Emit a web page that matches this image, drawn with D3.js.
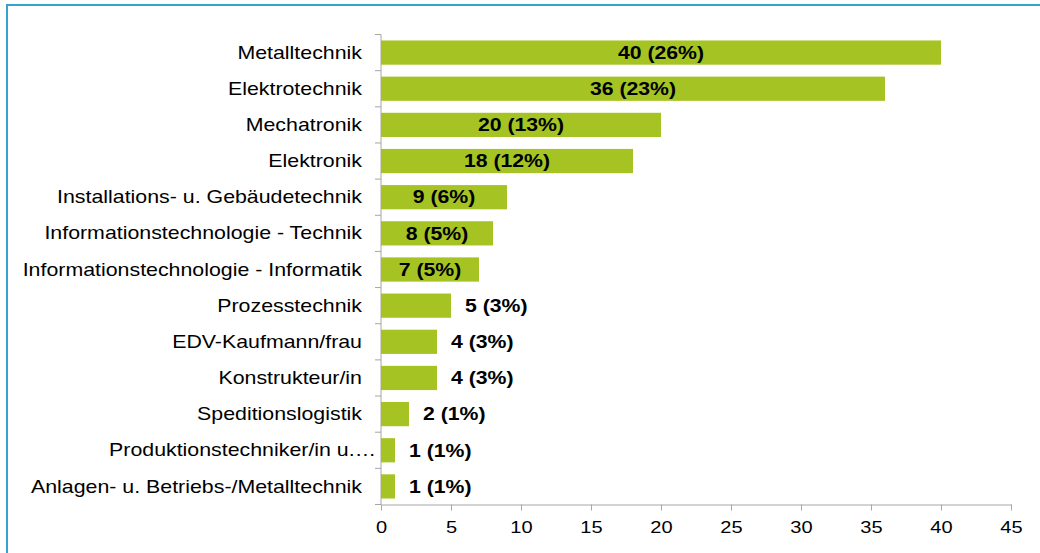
<!DOCTYPE html>
<html>
<head>
<meta charset="utf-8">
<script src="https://cdn.jsdelivr.net/npm/d3@7"></script>
<style>
body{margin:0;background:#fff}
text{font-family:"Liberation Sans",Arial,sans-serif}
</style>
</head>
<body>
<script>
var categories = ['Metalltechnik','Elektrotechnik','Mechatronik','Elektronik',
	'Installations- u. Gebäudetechnik','Informationstechnologie - Technik',
	'Informationstechnologie - Informatik','Prozesstechnik','EDV-Kaufmann/frau',
	'Konstrukteur/in','Speditionslogistik','Produktionstechniker/in u.…',
	'Anlagen- u. Betriebs-/Metalltechnik']
var counts = [40,36,20,18,9,8,7,5,4,4,2,1,1]
var percents = [26,23,13,12,6,5,5,3,3,3,1,1,1]
var xTicks = [0,5,10,15,20,25,30,35,40,45]

var W = 1040, H = 553
var stretch = 1.22
var axisColor = '#a6a6a6'

var svg = d3.select('body').append('svg').attr('width',W).attr('height',H)

svg.append('rect').attr('x',7).attr('y',5).attr('width',W+10).attr('height',H+10)
	.style('fill','#fff').style('stroke','#36a3cd').style('stroke-width',2)

var x = d3.scaleLinear().domain([0,45]).range([381,1011])
var y = d3.scaleBand().domain(categories).range([34.5,504.5])
	.paddingInner(0.33).paddingOuter(0.165)

// bars
var bars = svg.append('g').attr('id','bars')
categories.forEach((c,i)=>{
	bars.append('rect')
		.attr('x',x(0))
		.attr('y',y(c))
		.attr('width',x(counts[i])-x(0))
		.attr('height',y.bandwidth())
		.style('fill','#a5c423')
})

// x axis
var xAxis = svg.append('g').attr('transform',`translate(0,${y.range()[1]})`)
	.call(d3.axisBottom(x).tickValues(xTicks).tickSize(6).tickPadding(10).tickSizeOuter(0))
xAxis.select('.domain').style('stroke',axisColor)
xAxis.selectAll('line').style('stroke',axisColor)
xAxis.selectAll('text').style('font-size','17px').style('fill','#000')
	.attr('transform',`scale(1.18,1)`)

// y axis: line + ticks on category boundaries
var yAxis = svg.append('g').attr('id','yAxis')
yAxis.append('line').attr('x1',x(0)).attr('x2',x(0))
	.attr('y1',y.range()[0]).attr('y2',y.range()[1]).style('stroke',axisColor)
d3.range(categories.length+1).forEach(i=>{
	var yy = y.range()[0] + i*y.step()
	yAxis.append('line').attr('x1',x(0)-6).attr('x2',x(0))
		.attr('y1',yy).attr('y2',yy).style('stroke',axisColor)
})

var catLabels = svg.append('g').attr('transform',`translate(${x(0)-19},0) scale(${stretch},1)`)
categories.forEach((c,i)=>{
	// truncated label runs up to the axis, like the original
	var shift = c.endsWith('…') ? 14/stretch : 0
	catLabels.append('text').text(c)
		.attr('x',shift)
		.attr('y',y(c)+y.bandwidth()/2)
		.attr('dy','0.35em')
		.attr('text-anchor','end')
		.style('font-size','17.5px')
})

// value labels
var valueLabels = svg.append('g').attr('id','valueLabels')
categories.forEach((c,i)=>{
	var w = x(counts[i])-x(0)
	var t = valueLabels.append('text').text(`${counts[i]} (${percents[i]}%)`)
		.attr('dy','0.35em')
		.style('font-size','18px').style('font-weight','bold')
	var tw = t.node().getComputedTextLength()*1.18
	var cy = y(c)+y.bandwidth()/2
	var tx = (tw+12<w) ? x(0)+w/2-tw/2 : x(counts[i])+14
	t.attr('transform',`translate(${tx},${cy}) scale(1.18,1)`)
})
</script>
</body>
</html>
